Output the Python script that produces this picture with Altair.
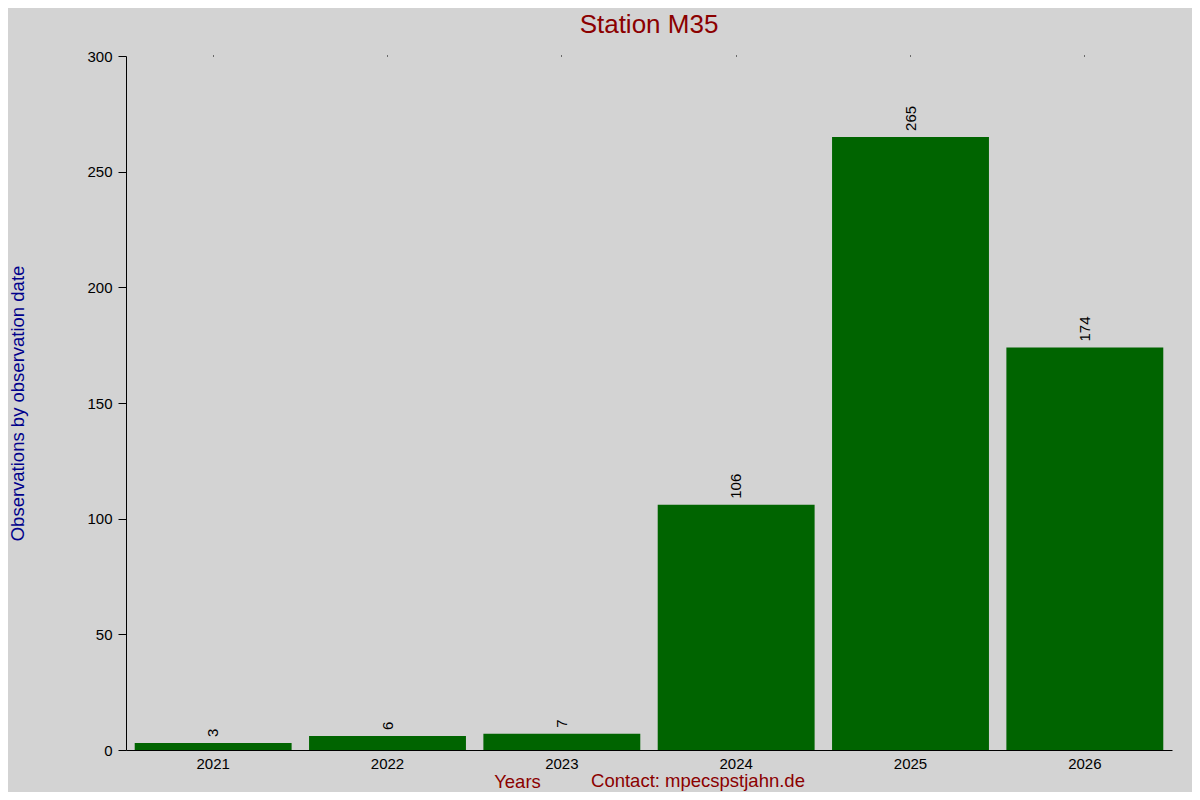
import altair as alt
import pandas as pd

years = ["2021", "2022", "2023", "2024", "2025", "2026"]
counts = [3, 6, 7, 106, 265, 174]
y_ticks = [0, 50, 100, 150, 200, 250, 300]

df = pd.DataFrame({"year": years, "count": counts})

xenc = alt.X(
    "year:N",
    sort=years,
    scale=alt.Scale(paddingInner=0.1, paddingOuter=0.05),
    axis=alt.Axis(
        title="Years", titleColor="#8b0000", titleFontSize=18.5, titleFontWeight="normal",
        titleFont="Liberation Sans", titleX=391, titleY=31, titleBaseline="middle",
        titleAnchor="middle",
        labelAngle=0, labelFontSize=15, labelColor="black", labelFont="Liberation Sans",
        ticks=False, labelPadding=6, domainColor="black", domainWidth=1,
    ),
)

yenc = alt.Y(
    "count:Q",
    scale=alt.Scale(domain=[0, 300], nice=False),
    axis=alt.Axis(
        title="Observations by observation date", titleColor="#00008b", titleFontSize=18.5,
        titleFontWeight="normal", titleFont="Liberation Sans", titleX=-109, titleY=347,
        titleAnchor="middle", titleBaseline="middle", titleAngle=270,
        values=y_ticks, labelFontSize=15, labelColor="black", labelFont="Liberation Sans",
        tickSize=8, tickColor="black", domainColor="black", grid=False, labelPadding=6,
    ),
)

bars = alt.Chart(df).mark_bar(color="#006400").encode(x=xenc, y=yenc)

labels = alt.Chart(df).mark_text(
    angle=270, align="left", baseline="middle", dx=6, fontSize=15,
    font="Liberation Sans", color="black",
).encode(x=alt.X("year:N", sort=years, axis=None), y="count:Q", text="count:Q")

top_axis = alt.Chart(df).mark_tick(opacity=0).encode(
    x=alt.X("year:N", sort=years,
            axis=alt.Axis(orient="top", labels=False, domain=False, tickSize=1,
                          tickColor="black", title=None)),
)

contact_df = pd.DataFrame({"t": ["Contact: mpecspstjahn.de"]})
contact = alt.Chart(contact_df).mark_text(
    align="center", baseline="middle", fontSize=18.5, font="Liberation Sans", color="#8b0000",
).encode(x=alt.value(572), y=alt.value(725), text="t:N")

chart = alt.layer(bars, labels, top_axis, contact).resolve_axis(x="independent").properties(
    width=1046, height=694,
    title=alt.TitleParams("Station M35", fontSize=26, color="#8b0000", font="Liberation Sans",
                          fontWeight="normal", anchor="middle", offset=11),
    background="#d3d3d3",
    autosize=alt.AutoSizeParams(type="none"),
    padding={"left": 118, "top": 48, "right": 20, "bottom": 42},
).configure_view(stroke=None, fill="#d3d3d3")

chart.save("out.html", embed_options={"renderer": "svg", "actions": False})
